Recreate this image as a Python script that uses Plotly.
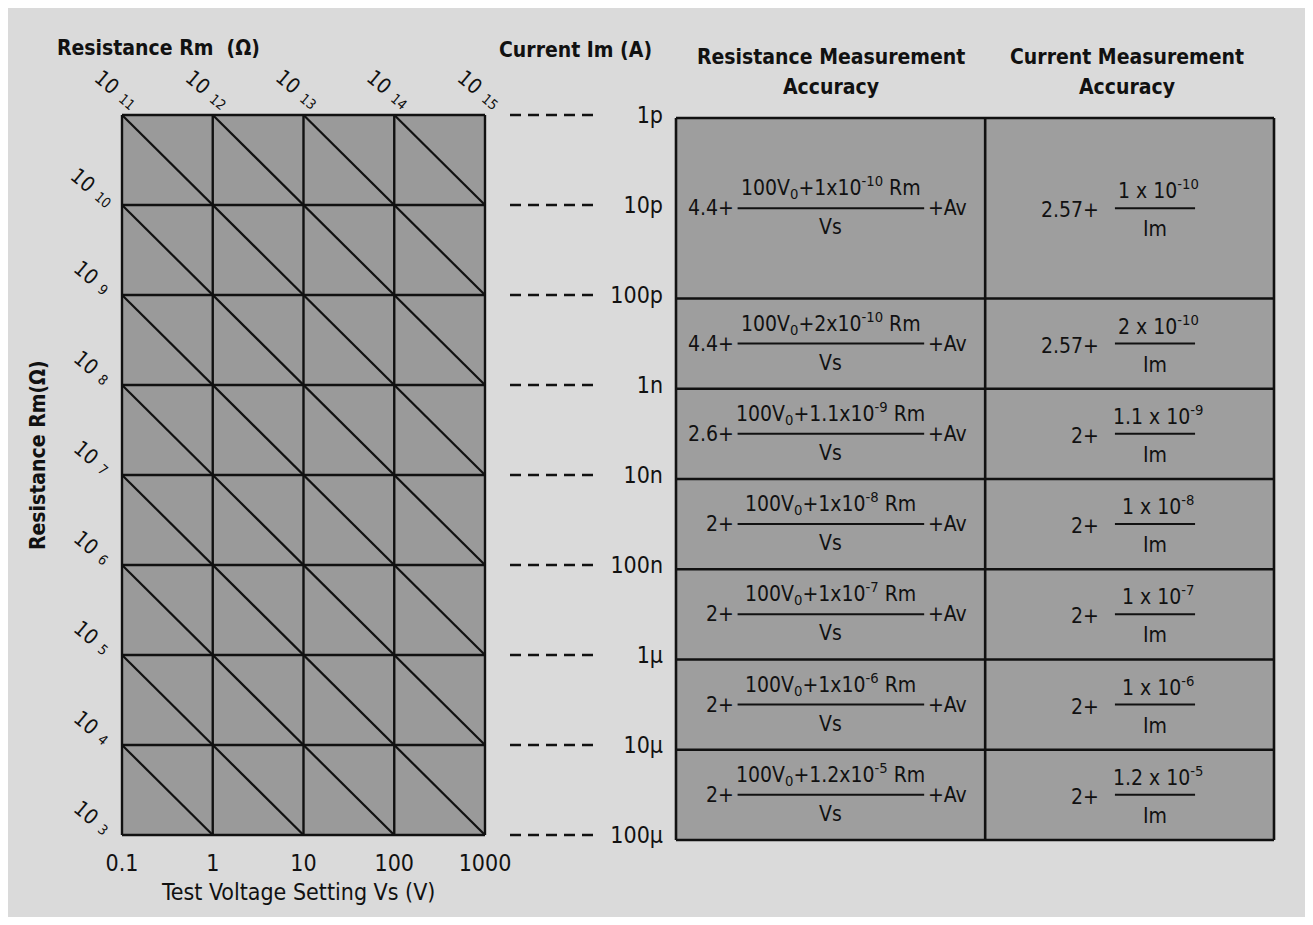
import numpy as np
import plotly.graph_objects as go

# ---------------- data ----------------
voltages = [0.1, 1, 10, 100, 1000]
voltage_labels = ["0.1", "1", "10", "100", "1000"]
currents = [1e-12, 1e-11, 1e-10, 1e-9, 1e-8, 1e-7, 1e-6, 1e-5, 1e-4]
current_labels = ["1p", "10p", "100p", "1n", "10n", "100n", "1µ", "10µ", "100µ"]
resistance_exponents = list(range(3, 16))
table_row_bounds = [1e-12, 1e-10, 1e-9, 1e-8, 1e-7, 1e-6, 1e-5, 1e-4]
table_col_bounds = [0.0, 0.517, 1.0]
res_prefix = ["4.4+", "4.4+", "2.6+", "2+", "2+", "2+", "2+"]
res_mantissa = ["1", "2", "1.1", "1", "1", "1", "1.2"]
cur_prefix = ["2.57+", "2.57+", "2+", "2+", "2+", "2+", "2+"]
cur_mantissa = ["1", "2", "1.1", "1", "1", "1", "1.2"]
coef_exponent = [-10, -10, -9, -8, -7, -6, -5]

# ---------------- layout helpers ----------------
W, H, OFF = 1297, 909, 8
def px(x):
    return (x - OFF) / W
def py(y):
    return 1 - (y - OFF) / H

FONT = "Liberation Sans Narrow, DejaVu Sans Condensed, Arial Narrow, sans-serif"
INK = "#111111"
CELL = "#9a9a9a"
TABLE = "#9e9e9e"
PAPER = "#dadada"

vmin, vmax = voltages[0], voltages[-1]
imin, imax = currents[0], currents[-1]
lvmin, lvmax = np.log10(vmin), np.log10(vmax)
limin, limax = np.log10(imin), np.log10(imax)

PAD = 0.03  # axis padding (in axis units) so edge lines are not clipped

def hspan(a, b, pa, pb, pad):
    k = (pb - pa) / (b - a)
    return [a - pad, b + pad], [px(pa - pad * k), px(pb + pad * k)]

def vspan(top, bottom, ptop, pbottom, pad):
    # top value drawn at pixel ptop, bottom value at pbottom; reversed axis
    k = (pbottom - ptop) / abs(bottom - top)
    rng = [bottom + pad, top - pad]
    dom = [py(pbottom + pad * k), py(ptop - pad * k)]
    return rng, dom

xr, xdom = hspan(lvmin, lvmax, 122, 485, PAD)
yr, ydom = vspan(limin, limax, 115, 835, PAD)
x2r, x2dom = hspan(0.0, 1.0, 676, 1274, 0.01)
y2r, y2dom = vspan(limin, limax, 118, 840, PAD)

fig = go.Figure()

# grid background
fig.add_trace(go.Scatter(x=[vmin, vmax, vmax, vmin, vmin], y=[imin, imin, imax, imax, imin],
                         mode="lines", fill="toself", fillcolor=CELL, line=dict(width=0),
                         hoverinfo="skip", xaxis="x", yaxis="y"))
# grid lines
gx, gy = [], []
for v in voltages:
    gx += [v, v, None]; gy += [imin, imax, None]
for c in currents:
    gx += [vmin, vmax, None]; gy += [c, c, None]
fig.add_trace(go.Scatter(x=gx, y=gy, mode="lines", line=dict(color=INK, width=2.4),
                         hoverinfo="skip", xaxis="x", yaxis="y"))
# constant-resistance diagonals
dx, dy = [], []
for e in resistance_exponents:
    R = 10.0 ** e
    v0 = max(vmin, R * imin)
    v1 = min(vmax, R * imax)
    if v1 > v0 * 1.0001:
        dx += [v0, v1, None]; dy += [v0 / R, v1 / R, None]
fig.add_trace(go.Scatter(x=dx, y=dy, mode="lines", line=dict(color=INK, width=2.2),
                         hoverinfo="skip", xaxis="x", yaxis="y"))

# dashed leader lines to current labels
lx, ly = [], []
for c in currents:
    lx += [0, 1, None]; ly += [c, c, None]
fig.add_trace(go.Scatter(x=lx, y=ly, mode="lines",
                         line=dict(color=INK, width=2.4, dash="11px,7px"),
                         hoverinfo="skip", xaxis="x3", yaxis="y"))
# current label axis activation
fig.add_trace(go.Scatter(x=[None], y=[None], xaxis="x", yaxis="y3", showlegend=False))

# table fill and borders
t0, t1 = table_col_bounds[0], table_col_bounds[-1]
fig.add_trace(go.Scatter(x=[t0, t1, t1, t0, t0],
                         y=[imin, imin, imax, imax, imin],
                         mode="lines", fill="toself", fillcolor=TABLE, line=dict(width=0),
                         hoverinfo="skip", xaxis="x2", yaxis="y2"))
bx, by = [], []
for b in table_row_bounds:
    bx += [t0, t1, None]; by += [b, b, None]
for cb in table_col_bounds:
    bx += [cb, cb, None]; by += [table_row_bounds[0], table_row_bounds[-1], None]
fig.add_trace(go.Scatter(x=bx, y=by, mode="lines", line=dict(color=INK, width=2.6),
                         hoverinfo="skip", xaxis="x2", yaxis="y2"))

annotations = []

# resistance labels along the top edge and left edge
for e in resistance_exponents:
    R = 10.0 ** e
    v_top = R * imin
    if vmin * 0.999 <= v_top <= vmax * 1.001:
        annotations.append(dict(x=np.log10(v_top), y=limin, xref="x", yref="y",
                                text="10<span style='font-size:14px'>  %d</span>" % e,
                                showarrow=False, textangle=40, xshift=-6, yshift=25,
                                font=dict(family=FONT, size=21, color=INK)))
    i_left = vmin / R
    if imin * 1.001 < i_left <= imax * 1.001:
        annotations.append(dict(x=lvmin, y=np.log10(i_left), xref="x", yref="y",
                                text="10<span style='font-size:14px'>  %d</span>" % e,
                                showarrow=False, textangle=40, xshift=-30, yshift=17,
                                font=dict(family=FONT, size=21, color=INK)))

# formulas
RX, RHALF = 0.259, 0.156      # resistance fraction centre / half width (x2 units)
CX, CHALF = 0.801, 0.067      # current fraction centre / half width (x2 units)
fx_line, fy_line = [], []
for r in range(len(table_row_bounds) - 1):
    ym_val = np.sqrt(table_row_bounds[r] * table_row_bounds[r + 1])
    ym = np.log10(ym_val)
    num = "100V<sub>0</sub>+%sx10<sup>%d</sup> Rm" % (res_mantissa[r], coef_exponent[r])
    f = dict(family=FONT, size=21, color=INK)
    annotations += [
        dict(x=RX, y=ym, xref="x2", yref="y2", text=num, showarrow=False, yshift=21, font=f),
        dict(x=RX, y=ym, xref="x2", yref="y2", text="Vs", showarrow=False, yshift=-19, font=f),
        dict(x=RX - RHALF, y=ym, xref="x2", yref="y2", text=res_prefix[r], showarrow=False,
             xanchor="right", xshift=-2, font=f),
        dict(x=RX + RHALF, y=ym, xref="x2", yref="y2", text="+Av", showarrow=False,
             xanchor="left", xshift=2, font=f),
    ]
    fx_line += [RX - RHALF, RX + RHALF, None]; fy_line += [ym_val, ym_val, None]
    cnum = "%s x 10<sup>%d</sup>" % (cur_mantissa[r], coef_exponent[r])
    annotations += [
        dict(x=CX, y=ym, xref="x2", yref="y2", text=cnum, showarrow=False, yshift=19,
             xshift=3, font=f),
        dict(x=CX, y=ym, xref="x2", yref="y2", text="Im", showarrow=False, yshift=-21, font=f),
        dict(x=CX - CHALF, y=ym, xref="x2", yref="y2", text=cur_prefix[r], showarrow=False,
             xanchor="right", xshift=-14, yshift=-2, font=f),
    ]
    fx_line += [CX - CHALF, CX + CHALF, None]; fy_line += [ym_val, ym_val, None]
fig.add_trace(go.Scatter(x=fx_line, y=fy_line, mode="lines", line=dict(color=INK, width=2),
                         hoverinfo="skip", xaxis="x2", yaxis="y2"))

# titles / headers
def label(x, y, text, size=21, bold=True, angle=0, xanchor="center"):
    annotations.append(dict(x=px(x), y=py(y), xref="paper", yref="paper",
                            text=("<b>%s</b>" % text) if bold else text, showarrow=False,
                            textangle=angle, xanchor=xanchor, yanchor="middle",
                            font=dict(family=FONT, size=size, color=INK)))

label(55, 48, "Resistance Rm  (Ω)", xanchor="left")
label(497, 50, "Current Im (A)", xanchor="left")
label(831, 57, "Resistance Measurement")
label(831, 87, "Accuracy")
label(1127, 57, "Current Measurement")
label(1127, 87, "Accuracy")
label(38, 455, "Resistance Rm(Ω)", angle=-90)
label(298, 892, "Test Voltage Setting Vs (V)", size=23, bold=False)

hidden = dict(showgrid=False, zeroline=False, showline=False, ticks="")
fig.update_layout(
    width=W, height=H, autosize=False,
    margin=dict(l=0, r=0, t=0, b=0, pad=0, autoexpand=False),
    paper_bgcolor=PAPER, plot_bgcolor=PAPER,
    showlegend=False,
    xaxis=dict(type="log", range=xr, domain=xdom, anchor="y",
               tickvals=voltages, ticktext=voltage_labels, ticklabelstandoff=9,
               tickfont=dict(family=FONT, size=23, color=INK), **hidden),
    yaxis=dict(type="log", range=yr, domain=ydom, anchor="x",
               showticklabels=False, **hidden),
    yaxis3=dict(type="log", range=yr, overlaying="y", anchor="free", position=px(663),
                side="left", tickvals=currents, ticktext=current_labels,
                tickfont=dict(family=FONT, size=23, color=INK), **hidden),
    xaxis3=dict(range=[0, 1], domain=[px(510), px(597)], anchor="y", visible=False),
    xaxis2=dict(range=x2r, domain=x2dom, anchor="y2", visible=False),
    yaxis2=dict(type="log", range=y2r, domain=y2dom, anchor="x2", visible=False),
    annotations=annotations,
)

fig.write_html("out.html")
